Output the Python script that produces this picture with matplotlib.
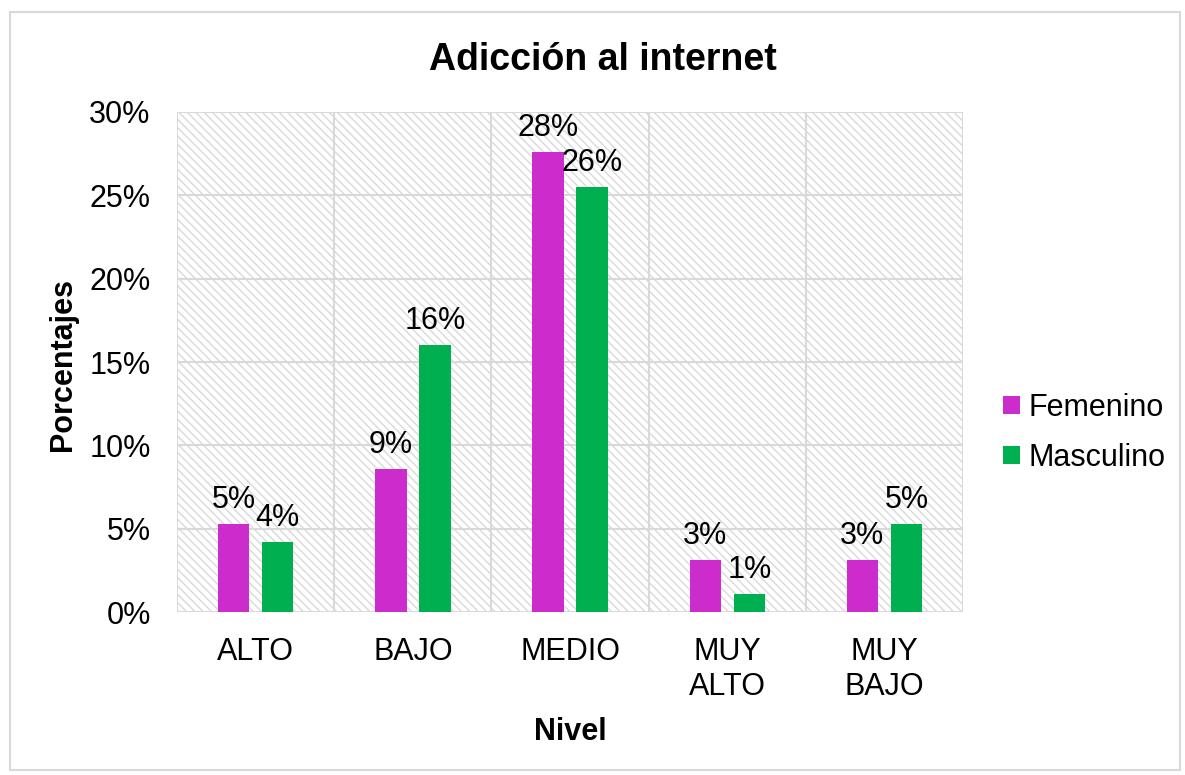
import numpy as np
import matplotlib.pyplot as plt
from matplotlib.patches import Rectangle

plt.rcParams['font.family'] = ['Liberation Sans', 'DejaVu Sans']
plt.rcParams['hatch.color'] = '#d9d9d9'
plt.rcParams['hatch.linewidth'] = 1.0

# datos
niveles = ['ALTO', 'BAJO', 'MEDIO', 'MUY\nALTO', 'MUY\nBAJO']
femenino = [5.3, 8.6, 27.6, 3.1, 3.1]
masculino = [4.2, 16.0, 25.5, 1.1, 5.3]
yticks = [0, 5, 10, 15, 20, 25, 30]

fig = plt.figure(figsize=(11.85, 7.75), dpi=100, facecolor='w')
ax = fig.add_axes([0.1494, 0.2103, 0.6633, 0.6452])

# fondo rayado
bg = Rectangle((0, 0), 1, 1, transform=ax.transAxes, facecolor='white',
               edgecolor='#d9d9d9', hatch='\\\\\\\\', lw=0, zorder=0)
ax.add_patch(bg)

x = np.arange(len(niveles))
w = 0.2
off = 0.14
b1 = ax.bar(x - off, femenino, w, color='#cc2ccc', label='Femenino', zorder=3)
b2 = ax.bar(x + off, masculino, w, color='#00b050', label='Masculino', zorder=3)

for rects, vals in ((b1, femenino), (b2, masculino)):
    for r, v in zip(rects, vals):
        ax.text(r.get_x() + r.get_width() / 2, v + 0.55, '%d%%' % round(v),
                ha='center', va='bottom', fontsize=22, zorder=4)

ax.set_xlim(-0.5, len(niveles) - 0.5)
ax.set_ylim(0, 30)
ax.set_yticks(yticks)
ax.set_yticklabels(['%d%%' % t for t in yticks], fontsize=22)
ax.set_xticks(x)
ax.set_xticklabels(niveles, fontsize=22, linespacing=1.2)
ax.tick_params(axis='x', length=0, pad=18)
ax.tick_params(axis='y', length=0, pad=19)

# rejilla
for t in yticks:
    ax.axhline(t, color='#d9d9d9', lw=1.5, zorder=1)
for b in np.arange(-0.5, len(niveles), 1):
    ax.axvline(b, color='#d9d9d9', lw=1.5, zorder=1)
for s in ax.spines.values():
    s.set_visible(False)

fig.text(570 / 1185, 1 - 732 / 775, 'Nivel', ha='center', va='center',
         fontsize=22, fontweight='bold')
fig.text(63 / 1185, 1 - 364 / 775, 'Porcentajes', ha='center', va='center',
         rotation=90, fontsize=22, fontweight='bold')
fig.text(603 / 1185, 1 - 60 / 775, 'Adicción al internet', ha='center', va='center',
         fontsize=27, fontweight='bold')

leg = fig.legend(loc='center left', bbox_to_anchor=(1003 / 1185, 1 - 433 / 775),
                 frameon=False, fontsize=22, handlelength=0.55, handleheight=0.55,
                 handletextpad=0.3, labelspacing=0.65, borderaxespad=0, borderpad=0)

# borde de la figura
fig.patches.append(Rectangle((10 / 1185, 5 / 775), 1170 / 1185, 758 / 775,
                             transform=fig.transFigure, fill=False,
                             edgecolor='#d9d9d9', lw=1.5))

fig.savefig('out.png', dpi=100)
